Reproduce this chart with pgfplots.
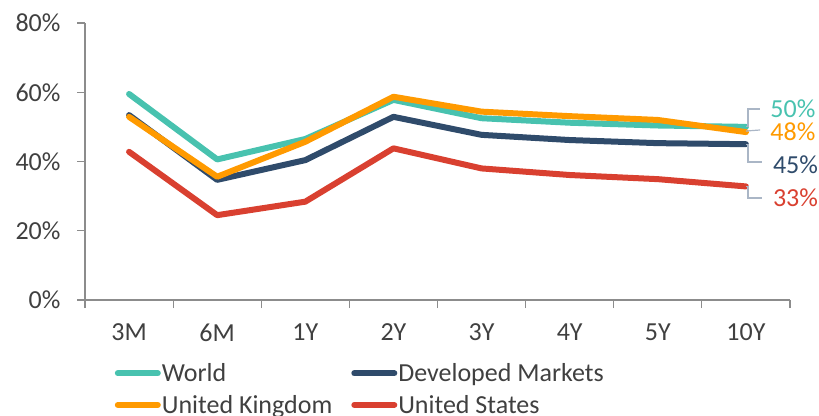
\documentclass[border=0pt]{standalone}
\usepackage{pgfplots}
\pgfplotsset{compat=1.18}
\usepackage{fontspec}
\setmainfont{Carlito}
\definecolor{cWorld}{RGB}{72,194,175}
\definecolor{cDev}{RGB}{47,75,107}
\definecolor{cUK}{RGB}{255,154,0}
\definecolor{cUS}{RGB}{217,64,48}
\definecolor{cAxis}{RGB}{140,140,140}
\definecolor{cText}{RGB}{64,64,64}
\definecolor{cLead}{RGB}{170,182,198}
\newcommand{\bigf}{\fontsize{26}{31}\selectfont}
\begin{document}
\begin{tikzpicture}[x=1pt,y=1pt]
\useasboundingbox (0,0) rectangle (819,415);
\begin{axis}[
  at={(85pt,115pt)}, anchor=south west,
  scale only axis, width=705pt, height=277pt,
  xmin=-0.5, xmax=7.5, ymin=0, ymax=80,
  axis x line*=bottom, axis y line*=left,
  axis line style={cAxis, line width=1.2pt},
  every tick/.style={cAxis, line width=1.2pt},
  tick align=outside,
  xtick={0,...,7},
  xticklabels={3M,6M,1Y,2Y,3Y,4Y,5Y,10Y},
  major x tick style={draw=none},
  minor xtick={-0.5,0.5,...,7.5},
  minor tick length=8pt,
  major tick length=8pt,
  ytick={0,20,40,60,80},
  yticklabel={\pgfmathprintnumber{\tick}\%},
  /pgf/number format/assume math mode=true,
  tick label style={font=\bigf, text=cText},
  xticklabel style={yshift=-12pt},
  yticklabel style={xshift=-13pt},
  clip=false,
  legend columns=2,
  legend style={at={(0.042,-0.225)}, anchor=north west, draw=none, fill=none,
    font=\bigf, text=cText, inner sep=0pt,
    /tikz/every even column/.append style={column sep=18pt},
    /tikz/row sep=10pt,
    nodes={inner xsep=1pt, inner ysep=1pt}, cells={anchor=west}},
  legend image code/.code={\draw[#1, line width=6pt, line cap=round] (0pt,0pt) -- (40pt,0pt);},
  every axis plot/.append style={line width=6pt, line join=round, line cap=round},
]
\addplot[cWorld] coordinates {(0,59.5) (1,40.6) (2,46.5) (3,57.8) (4,52.5) (5,51.2) (6,50.4) (7,50.0)};
\addlegendentry{World}
\addplot[cDev] coordinates {(0,53.4) (1,34.7) (2,40.4) (3,52.9) (4,47.7) (5,46.2) (6,45.3) (7,45.0)};
\addlegendentry{Developed Markets}
\addplot[cUK] coordinates {(0,52.9) (1,35.6) (2,45.7) (3,58.7) (4,54.4) (5,53.1) (6,52.0) (7,48.5)};
\addlegendentry{United Kingdom}
\addplot[cUS] coordinates {(0,42.8) (1,24.5) (2,28.4) (3,43.8) (4,38.0) (5,36.1) (6,34.9) (7,32.8)};
\addlegendentry{United States}
% leader lines
\draw[cLead, line width=1.2pt] (axis cs:7,50.0) -- (axis cs:7.024,50.0) -- (axis cs:7.024,55.16) -- (axis cs:7.16,55.16);
\draw[cLead, line width=1.2pt] (axis cs:7,48.8) -- (axis cs:7.16,49.1);
\draw[cLead, line width=1.2pt] (axis cs:7,45.0) -- (axis cs:7.024,45.0) -- (axis cs:7.024,39.86) -- (axis cs:7.183,39.86);
\draw[cLead, line width=1.2pt] (axis cs:7,32.8) -- (axis cs:7.024,32.8) -- (axis cs:7.024,29.46) -- (axis cs:7.183,29.46);
\node[anchor=west, inner sep=0pt, font=\bigf, text=cWorld] at (axis cs:7.276,55.2) {50\%};
\node[anchor=west, inner sep=0pt, font=\bigf, text=cUK] at (axis cs:7.276,48.6) {48\%};
\node[anchor=west, inner sep=0pt, font=\bigf, text=cDev] at (axis cs:7.305,38.99) {45\%};
\node[anchor=west, inner sep=0pt, font=\bigf, text=cUS] at (axis cs:7.305,29.46) {33\%};
\end{axis}
\end{tikzpicture}
\end{document}
